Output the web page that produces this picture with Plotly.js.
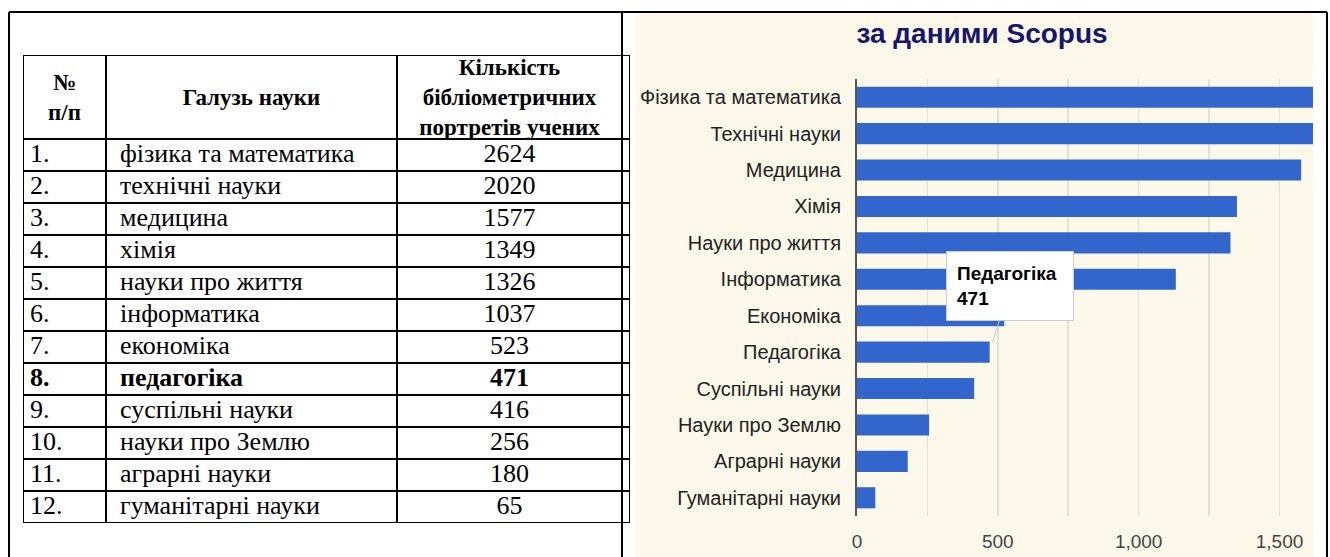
<!DOCTYPE html>
<html>
<head>
<meta charset="utf-8">
<script src="https://cdn.plot.ly/plotly-3.0.1.min.js"></script>
<style>html,body{margin:0;padding:0;background:#fff;}#chart{width:1330px;height:557px;}</style>
</head>
<body>
<div id="chart"></div>
<script>
// ---- Table data ----
var tableHeaders = ['№<br>п/п', 'Галузь науки', 'Кількість<br>бібліометричних<br>портретів учених'];
var tableNums = ['1.', '2.', '3.', '4.', '5.', '6.', '7.', '8.', '9.', '10.', '11.', '12.'];
var tableFields = ['фізика та математика', 'технічні науки', 'медицина', 'хімія', 'науки про життя',
  'інформатика', 'економіка', 'педагогіка', 'суспільні науки', 'науки про Землю', 'аграрні науки', 'гуманітарні науки'];
var tableCounts = [2624, 2020, 1577, 1349, 1326, 1037, 523, 471, 416, 256, 180, 65];
var highlightIndex = 7;

// ---- Chart data ----
var chartTitle = 'за даними Scopus';
var chartCategories = ['Фізика та математика', 'Технічні науки', 'Медицина', 'Хімія', 'Науки про життя',
  'Інформатика', 'Економіка', 'Педагогіка', 'Суспільні науки', 'Науки про Землю', 'Аграрні науки', 'Гуманітарні науки'];
var chartValues = [2624, 2020, 1577, 1349, 1326, 1132, 523, 471, 416, 256, 180, 65];

// ---- Layout helpers ----
var W = 1330, H = 557;
function fx(px) { return px / W; }
function fy(py) { return 1 - py / H; }
var colWidths = [83, 291, 225, 8];
var colEdges = [0];
colWidths.forEach(function (w) { colEdges.push(colEdges[colEdges.length - 1] + w); });
var headerRows = 84 / 32;
var nRows = tableNums.length;

function bold(arr) {
  return arr.map(function (v, i) { return i === highlightIndex ? '<b>' + v + '</b>' : String(v); });
}
var rowY = tableNums.map(function (_, i) { return i + 0.5; });
var serif = 'Liberation Serif, Times New Roman, serif';
var sans = 'Liberation Sans, Arial, sans-serif';
var bodyFont = { family: serif, size: 26, color: '#000' };

var traces = [
  {
    type: 'bar', orientation: 'h', x: chartValues, y: chartCategories,
    marker: { color: '#3366cc' }, hoverinfo: 'skip', xaxis: 'x', yaxis: 'y'
  },
  {
    type: 'scatter', mode: 'text', xaxis: 'x2', yaxis: 'y2', hoverinfo: 'skip',
    x: tableNums.map(function () { return 7; }), y: rowY, text: bold(tableNums),
    textposition: 'middle right', textfont: bodyFont
  },
  {
    type: 'scatter', mode: 'text', xaxis: 'x2', yaxis: 'y2', hoverinfo: 'skip',
    x: tableFields.map(function () { return colEdges[1] + 14; }), y: rowY, text: bold(tableFields),
    textposition: 'middle right', textfont: bodyFont
  },
  {
    type: 'scatter', mode: 'text', xaxis: 'x2', yaxis: 'y2', hoverinfo: 'skip',
    x: tableCounts.map(function () { return (colEdges[2] + colEdges[3]) / 2; }), y: rowY, text: bold(tableCounts),
    textposition: 'middle center', textfont: bodyFont
  },
  {
    type: 'scatter', mode: 'text', xaxis: 'x2', yaxis: 'y2', hoverinfo: 'skip',
    x: tableHeaders.map(function (_, i) { return (colEdges[i] + colEdges[i + 1]) / 2; }),
    y: tableHeaders.map(function () { return -headerRows / 2 + 2 / 32; }),
    text: tableHeaders.map(function (h) { return '<b>' + h + '</b>'; }),
    textposition: 'middle center', textfont: { family: serif, size: 23, color: '#000' }
  }
];

var shapes = [];
// cream chart background
shapes.push({ type: 'rect', xref: 'paper', yref: 'paper', x0: fx(636), x1: fx(1313), y0: fy(557), y1: fy(13),
  fillcolor: '#fdf9ea', line: { width: 0 }, layer: 'below' });
// outer frame lines
var frame = { color: '#000', width: 2 };
shapes.push({ type: 'line', xref: 'paper', yref: 'paper', x0: fx(9), x1: fx(1327), y0: fy(12), y1: fy(12), line: frame });
shapes.push({ type: 'line', xref: 'paper', yref: 'paper', x0: fx(9), x1: fx(9), y0: fy(12), y1: fy(557), line: frame });
shapes.push({ type: 'line', xref: 'paper', yref: 'paper', x0: fx(622), x1: fx(622), y0: fy(12), y1: fy(557), line: frame });
shapes.push({ type: 'line', xref: 'paper', yref: 'paper', x0: fx(1327), x1: fx(1327), y0: fy(12), y1: fy(557), line: frame });
// table grid
var grid = { color: '#000', width: 2 };
var hLines = [-headerRows];
for (var r = 0; r <= nRows; r++) hLines.push(r);
hLines.forEach(function (yv) {
  shapes.push({ type: 'line', xref: 'x2', yref: 'y2', x0: colEdges[0], x1: colEdges[colEdges.length - 1], y0: yv, y1: yv, line: grid });
});
colEdges.forEach(function (xv) {
  shapes.push({ type: 'line', xref: 'x2', yref: 'y2', x0: xv, x1: xv, y0: -headerRows, y1: nRows, line: grid });
});

var layout = {
  width: W, height: H,
  margin: { l: 0, r: 0, t: 0, b: 0 },
  paper_bgcolor: '#ffffff', plot_bgcolor: 'rgba(0,0,0,0)',
  showlegend: false, bargap: 0.42,
  title: { text: chartTitle, x: fx(982), xanchor: 'center', y: fy(33), yanchor: 'middle',
    xref: 'paper', yref: 'paper', font: { family: sans, size: 28, color: '#16166e', weight: 'bold' } },
  xaxis: {
    domain: [fx(857), fx(1313)], range: [0, 1619], autorange: false, fixedrange: true,
    dtick: 500, tick0: 0, tickformat: ',d', ticks: '', ticklabelstandoff: 12,
    showgrid: true, gridcolor: '#e4e0d4', gridwidth: 1.5,
    minor: { dtick: 250, showgrid: true, gridcolor: '#e4e0d4', gridwidth: 1.5 },
    zeroline: false, showline: false,
    tickfont: { family: sans, size: 19, color: '#444' }, anchor: 'y'
  },
  yaxis: {
    domain: [fy(516), fy(79)], type: 'category', autorange: 'reversed', fixedrange: true,
    ticks: '', ticklabelstandoff: 10, showgrid: false, zeroline: false,
    showline: true, linecolor: '#555', linewidth: 2,
    tickfont: { family: sans, size: 20, color: '#222' }, anchor: 'x'
  },
  xaxis2: { domain: [fx(23), fx(630)], range: [0, colEdges[colEdges.length - 1]], autorange: false,
    visible: false, fixedrange: true, anchor: 'y2' },
  yaxis2: { domain: [fy(523), fy(55)], range: [nRows, -headerRows], autorange: false,
    visible: false, fixedrange: true, anchor: 'x2' },
  shapes: shapes,
  annotations: [{
    xref: 'x', yref: 'y', x: chartValues[highlightIndex], y: chartCategories[highlightIndex],
    text: '<b>' + chartCategories[highlightIndex] + '</b><br><b>' + chartValues[highlightIndex] + '</b>',
    showarrow: true, arrowhead: 0, arrowwidth: 1, arrowcolor: '#c8c8c8', standoff: 10,
    ax: 20, ay: -66, align: 'left', width: 106, height: 48, borderpad: 10,
    bgcolor: '#ffffff', bordercolor: '#cccccc', borderwidth: 1,
    font: { family: sans, size: 19, color: '#000' }
  }]
};

Plotly.newPlot('chart', traces, layout, { displayModeBar: false, staticPlot: true });
</script>
</body>
</html>
